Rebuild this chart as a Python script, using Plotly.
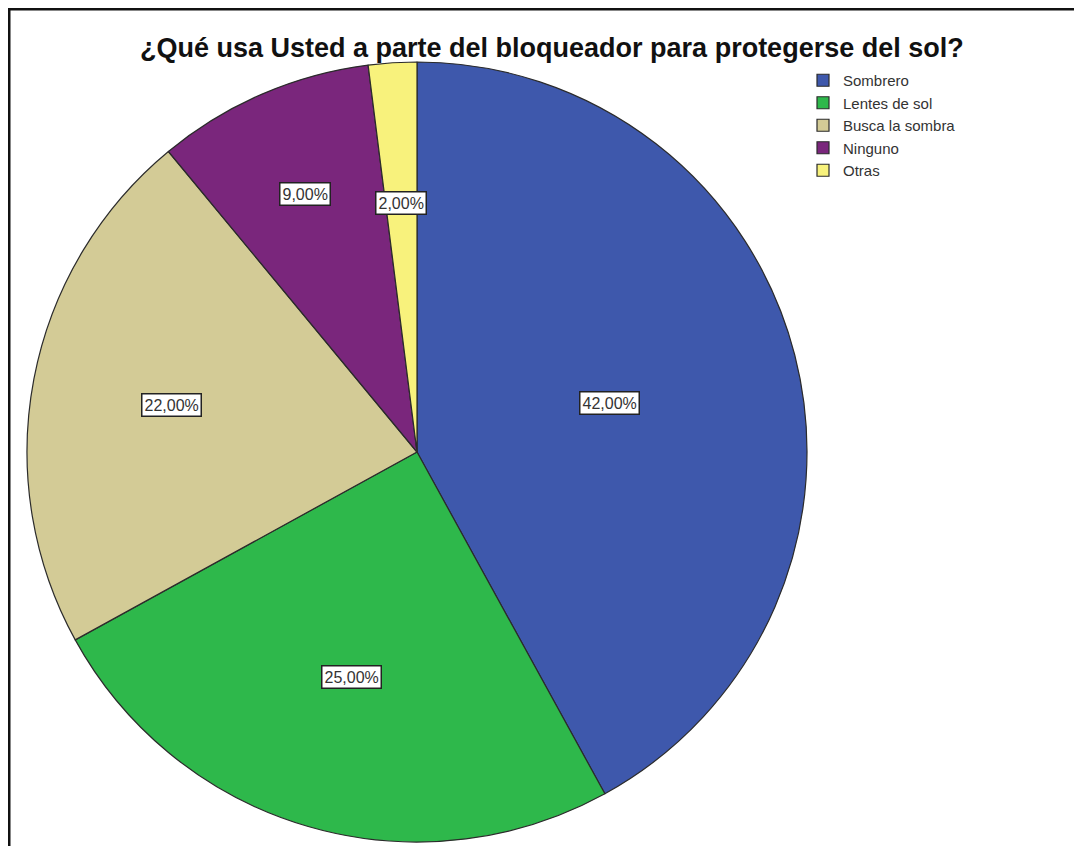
import math

import plotly.graph_objects as go

# data
categories = ["Sombrero", "Lentes de sol", "Busca la sombra", "Ninguno", "Otras"]
percentages = [42.0, 25.0, 22.0, 9.0, 2.0]
slice_colors = ["#3e58ac", "#2eb84b", "#d3cb96", "#7a267c", "#f8f27c"]
title_text = "¿Qué usa Usted a parte del bloqueador para protegerse del sol?"

W, H = 1082, 846
OFF = 8  # the page body adds an 8px margin, so shift everything back by that
CX, CY, R = 417 - OFF, 452 - OFF, 390  # pie centre / radius in px
# how far out along the radius each box label sits (fraction of R)
label_radius = [0.51, 0.60, 0.64, 0.72, 0.64]


def pct_label(v: float) -> str:
    return f"{v:.2f}%".replace(".", ",")


def px_x(x: float) -> float:
    return x / W


def px_y(y: float) -> float:
    return 1 - y / H


fig = go.Figure()
fig.add_trace(
    go.Pie(
        labels=categories,
        values=percentages,
        sort=False,
        direction="clockwise",
        rotation=0,
        marker=dict(colors=slice_colors, line=dict(color="#2b2b2b", width=1.2)),
        textinfo="none",
        hoverinfo="label+percent",
        domain=dict(
            x=[px_x(CX - R), px_x(CX + R)],
            y=[px_y(CY + R), px_y(CY - R)],
        ),
    )
)

# boxed percentage labels, placed at mid-angle of each slice
annotations = []
total = sum(percentages)
cum = 0.0
for v, k in zip(percentages, label_radius):
    mid = (cum + v / 2) / total * 2 * math.pi
    cum += v
    annotations.append(
        dict(
            text=pct_label(v),
            x=px_x(CX + k * R * math.sin(mid)),
            y=px_y(CY - k * R * math.cos(mid)),
            xref="paper",
            yref="paper",
            xanchor="center",
            yanchor="middle",
            showarrow=False,
            font=dict(family="Liberation Sans, Arial", size=16, color="#333333"),
            bgcolor="white",
            bordercolor="#222222",
            borderwidth=1.5,
            borderpad=2,
        )
    )

annotations.append(
    dict(
        text=f"<b>{title_text}</b>",
        x=px_x(552 - OFF),
        y=px_y(48 - OFF),
        xref="paper",
        yref="paper",
        xanchor="center",
        yanchor="middle",
        showarrow=False,
        font=dict(family="Liberation Sans, Arial", size=27, color="#111111"),
    )
)

# frame around the image (top/left dark, right faint)
shapes = [
    dict(type="line", xref="paper", yref="paper", x0=px_x(1), x1=px_x(1), y0=0, y1=px_y(0),
         line=dict(color="#111111", width=3)),
    dict(type="line", xref="paper", yref="paper", x0=0, x1=1, y0=px_y(1), y1=px_y(1),
         line=dict(color="#111111", width=3)),
    dict(type="line", xref="paper", yref="paper", x0=px_x(1080 - OFF), x1=px_x(1080 - OFF),
         y0=0, y1=px_y(1), line=dict(color="#dddddd", width=1)),
]

fig.update_layout(
    width=W,
    height=H,
    margin=dict(l=0, r=0, t=0, b=0),
    paper_bgcolor="white",
    plot_bgcolor="white",
    showlegend=True,
    legend=dict(
        x=px_x(803 - OFF),
        y=px_y(64 - OFF),
        xanchor="left",
        yanchor="top",
        font=dict(family="Liberation Sans, Arial", size=15, color="#333333"),
        bgcolor="rgba(0,0,0,0)",
        itemwidth=30,
        tracegroupgap=0,
    ),
    annotations=annotations,
    shapes=shapes,
)

fig.write_html("out.html")
